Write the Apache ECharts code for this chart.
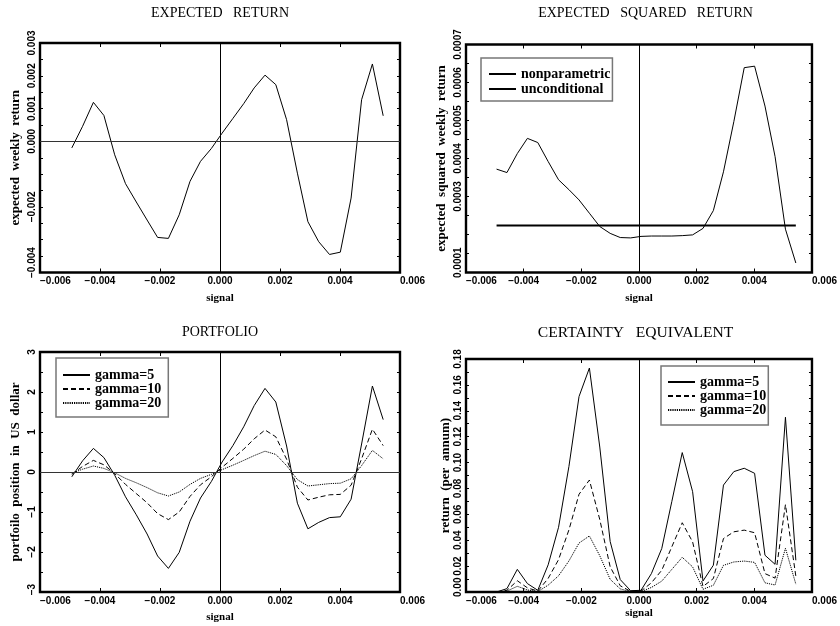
<!DOCTYPE html>
<html>
<head>
<meta charset="utf-8">
<script src="https://cdn.jsdelivr.net/npm/echarts@6/dist/echarts.min.js"></script>
<style>
  html, body { margin: 0; padding: 0; background: #fff; }
  #chart { width: 840px; height: 626px; }
</style>
</head>
<body>
<div id="chart"></div>
<script>
// Kernel grid of the signal (x values shared by all four panels)
const signal = [-0.00494, -0.00458, -0.00422, -0.00387, -0.00351, -0.00315, -0.00279, -0.00243, -0.00208, -0.00172,
                -0.00136, -0.00100, -0.00065, -0.00029, 0.00007, 0.00043, 0.00079, 0.00114, 0.00150, 0.00186,
                0.00222, 0.00258, 0.00293, 0.00329, 0.00365, 0.00401, 0.00437, 0.00472, 0.00508, 0.00544];

// Expected weekly return
const expectedReturn = [-0.00020, 0.00046, 0.00119, 0.00079, -0.00041, -0.00129, -0.00185, -0.00240, -0.00293, -0.00296,
                        -0.00224, -0.00122, -0.00061, -0.00022, 0.00025, 0.00070, 0.00115, 0.00163, 0.00202, 0.00173,
                        0.00066, -0.00097, -0.00245, -0.00306, -0.00345, -0.00338, -0.00173, 0.00127, 0.00236, 0.00078];

// Expected squared weekly return: nonparametric estimate and the unconditional level
const expectedSquared = [0.000372, 0.000363, 0.000413, 0.000453, 0.000442, 0.000392, 0.000344, 0.000318, 0.000291, 0.000256,
                         0.000221, 0.000203, 0.000192, 0.000191, 0.000195, 0.000196, 0.000196, 0.000196, 0.000197, 0.000199,
                         0.000216, 0.000263, 0.000365, 0.000497, 0.000639, 0.000643, 0.000538, 0.000405, 0.000214, 0.000125];
const unconditionalSquared = 0.000224;

// Portfolio position in US dollar
const position5  = [-0.12, 0.28, 0.59, 0.36, -0.08, -0.62, -1.07, -1.55, -2.10, -2.41,
                    -2.01, -1.23, -0.65, -0.24, 0.25, 0.66, 1.13, 1.66, 2.09, 1.75,
                    0.65, -0.78, -1.42, -1.26, -1.14, -1.12, -0.68, 0.70, 2.15, 1.31];
const position10 = [-0.06, 0.14, 0.29, 0.18, -0.04, -0.31, -0.54, -0.77, -1.04, -1.19,
                    -1.00, -0.61, -0.32, -0.12, 0.12, 0.34, 0.57, 0.83, 1.05, 0.88,
                    0.32, -0.38, -0.70, -0.63, -0.57, -0.56, -0.33, 0.33, 1.07, 0.66];
const position20 = [-0.03, 0.07, 0.15, 0.09, -0.02, -0.16, -0.27, -0.39, -0.52, -0.60,
                    -0.50, -0.31, -0.16, -0.06, 0.06, 0.17, 0.29, 0.41, 0.52, 0.44,
                    0.16, -0.19, -0.35, -0.32, -0.29, -0.28, -0.17, 0.16, 0.54, 0.33];

// Certainty equivalent return (per annum)
const certainty5  = [0.0000, 0.0026, 0.0175, 0.0065, 0.0013, 0.0210, 0.0500, 0.0970, 0.1510, 0.1730,
                     0.1120, 0.0390, 0.0096, 0.0010, 0.0013, 0.0142, 0.0336, 0.0700, 0.1077, 0.0775,
                     0.0085, 0.0207, 0.0826, 0.0930, 0.0956, 0.0917, 0.0284, 0.0214, 0.1350, 0.0245];
const certainty10 = [0.0000, 0.0013, 0.0087, 0.0032, 0.0007, 0.0105, 0.0250, 0.0480, 0.0755, 0.0865,
                     0.0560, 0.0195, 0.0048, 0.0005, 0.0007, 0.0071, 0.0168, 0.0350, 0.0535, 0.0387,
                     0.0043, 0.0104, 0.0413, 0.0465, 0.0478, 0.0458, 0.0142, 0.0107, 0.0675, 0.0123];
const certainty20 = [0.0000, 0.0007, 0.0044, 0.0016, 0.0003, 0.0053, 0.0125, 0.0240, 0.0378, 0.0433,
                     0.0280, 0.0098, 0.0024, 0.0003, 0.0003, 0.0035, 0.0084, 0.0175, 0.0268, 0.0194,
                     0.0021, 0.0052, 0.0206, 0.0232, 0.0239, 0.0229, 0.0071, 0.0054, 0.0338, 0.0061];

const panelTitles = ['EXPECTED   RETURN', 'EXPECTED   SQUARED   RETURN', 'PORTFOLIO', 'CERTAINTY   EQUIVALENT'];
const yNames = ['expected  weekly  return', 'expected  squared  weekly  return', 'portfoilo  position  in  US  dollar', 'return  (per  annum)'];
// tick values left unlabelled on the expected-return axis
const skippedReturnTicks = [-0.003, -0.001];

const MINUS = '\u2212';
const numText = (v, d) => (v < -1e-12 ? MINUS : '') + Math.abs(v).toFixed(d);
const pair = ys => signal.map((s, i) => [s, ys[i]]);

const tickFamily = '"Liberation Sans Narrow", "Liberation Sans", sans-serif';
const tickFont = { fontFamily: tickFamily, fontWeight: 'bold', fontSize: 10, color: '#000' };
const nameFontX = { fontFamily: 'Liberation Serif, serif', fontWeight: 'bold', fontSize: 11, color: '#000' };
const nameFontY = { fontFamily: 'Liberation Serif, serif', fontWeight: 'bold', fontSize: 13, color: '#000' };

// text width helper, used to slide the lowest y label up the axis
const measureCtx = document.createElement('canvas').getContext('2d');
measureCtx.font = 'bold 10px ' + tickFamily;
const textWidth = t => measureCtx.measureText(t).width;

const grids = [
  { left: 40,  top: 43,  width: 360, height: 229.5 },
  { left: 466, top: 44.5, width: 359, height: 228 },
  { left: 40,  top: 352, width: 360, height: 240 },
  { left: 466, top: 359, width: 359, height: 233 }
].map(g => Object.assign(g, { show: true, borderColor: '#000', borderWidth: 2.4, backgroundColor: 'transparent' }));

const yCfg = [
  { min: -0.004, max: 0.003, interval: 0.001, dec: 3, nameGap: 18, drop: 5.5 },
  { min: 0.0001, max: 0.0007, interval: 0.0001, dec: 4, nameGap: 18, drop: 5.5 },
  { min: -3, max: 3, interval: 1, dec: 0, nameGap: 18, drop: 3.3 },
  { min: 0, max: 0.18, interval: 0.02, dec: 2, nameGap: 11, drop: 5 }
];
const xNameGaps = [20, 20, 20, 16];

const xAxis = [], yAxis = [];
for (let g = 0; g < 4; g++) {
  const xBase = { gridIndex: g, type: 'value', min: -0.006, max: 0.006, interval: 0.002,
                  axisLine: { show: false, onZero: false }, splitLine: { show: false },
                  axisTick: { inside: true, length: 4, lineStyle: { color: '#000', width: 1 } } };
  xAxis.push(Object.assign({}, xBase, {
    position: 'bottom', name: 'signal', nameLocation: 'middle', nameGap: xNameGaps[g], nameTextStyle: nameFontX,
    axisLabel: Object.assign({ margin: 4, formatter: v => numText(v, 3), showMinLabel: true, showMaxLabel: true,
                               alignMinLabel: 'left', alignMaxLabel: 'left' }, tickFont)
  }));
  xAxis.push(Object.assign({}, xBase, { position: 'top', axisLabel: { show: false } }));

  const c = yCfg[g];
  const minText = numText(c.min, c.dec);
  const minPad = Math.max(0, textWidth(minText) - 2 * c.drop);
  const yBase = { gridIndex: g, type: 'value', min: c.min, max: c.max, interval: c.interval,
                  axisLine: { show: false, onZero: false }, splitLine: { show: false }, minorSplitLine: { show: false },
                  axisTick: { inside: true, length: 3, lineStyle: { color: '#000', width: 1 } },
                  minorTick: { show: true, splitNumber: 2, length: 3, lineStyle: { color: '#000', width: 1 } } };
  yAxis.push(Object.assign({}, yBase, {
    position: 'left', name: yNames[g], nameLocation: 'middle', nameGap: c.nameGap, nameTextStyle: nameFontY,
    axisLabel: Object.assign({
      rotate: 90, margin: 3, showMinLabel: true, showMaxLabel: true, hideOverlap: false,
      formatter: v => {
        if (g === 0 && skippedReturnTicks.some(s => Math.abs(s - v) < 1e-9)) return '';
        const t = numText(v, c.dec);
        return Math.abs(v - c.min) < 1e-12 ? '{lo|' + t + '}' : t;
      },
      rich: { lo: Object.assign({ padding: [0, 0, 0, minPad] }, tickFont) }
    }, tickFont)
  }));
  yAxis.push(Object.assign({}, yBase, { position: 'right', axisLabel: { show: false } }));
}

const zeroLines = (withHorizontal) => ({
  silent: true, symbol: ['none', 'none'], label: { show: false }, animation: false,
  lineStyle: { color: '#000', width: 1, type: 'solid' },
  data: withHorizontal ? [{ xAxis: 0 }, { yAxis: 0, lineStyle: { color: '#333' } }] : [{ xAxis: 0 }]
});

const lineSeries = (name, g, ys, style, extra) => Object.assign({
  name, type: 'line', xAxisIndex: 2 * g, yAxisIndex: 2 * g, data: pair(ys),
  symbol: 'none', showSymbol: false, smooth: false, animation: false,
  lineStyle: Object.assign({ color: '#000', width: 1 }, style),
  itemStyle: { color: '#000' }
}, extra || {});

const solid = { type: 'solid' };
const dashed = { type: [5, 3] };
const dotted = { type: [1.2, 1], width: 1 };

const series = [
  lineSeries('expected', 0, expectedReturn, solid, { markLine: zeroLines(true) }),
  lineSeries('nonparametric', 1, expectedSquared, solid, { markLine: zeroLines(false) }),
  lineSeries('unconditional', 1, signal.map(() => unconditionalSquared), { width: 2 }),
  lineSeries('gamma=5', 2, position5, solid, { markLine: zeroLines(true) }),
  lineSeries('gamma=10', 2, position10, dashed),
  lineSeries('gamma=20', 2, position20, dotted),
  lineSeries('gamma=5', 3, certainty5, solid, { markLine: zeroLines(false) }),
  lineSeries('gamma=10', 3, certainty10, dashed),
  lineSeries('gamma=20', 3, certainty20, dotted)
];

const legendBase = {
  orient: 'vertical', itemWidth: 27, itemHeight: 12, itemGap: 0,
  borderColor: '#777', borderWidth: 1.5, backgroundColor: '#fff',
  selectedMode: false,
  itemStyle: { color: 'rgba(0,0,0,0)', borderColor: 'rgba(0,0,0,0)', borderWidth: 0, opacity: 0 },
  textStyle: { fontFamily: 'Liberation Serif, serif', fontWeight: 'bold', fontSize: 14, color: '#000' }
};
const legend = [
  Object.assign({}, legendBase, { data: ['nonparametric', 'unconditional'], left: 481, top: 58, padding: [9, 2, 5, 7], itemGap: 1 }),
  Object.assign({}, legendBase, { data: ['gamma=5', 'gamma=10', 'gamma=20'], left: 56, top: 358, padding: [10, 7, 7, 6] }),
  Object.assign({}, legendBase, { data: ['gamma=5', 'gamma=10', 'gamma=20'], left: 661, top: 366, padding: [9, 2, 8, 6] })
];

const titleSizes = [14, 14, 14, 15.6];
const titlePos = [[220, 13], [645.5, 13], [220, 332], [635.5, 333]];
const graphic = panelTitles.map((t, i) => ({
  type: 'text', x: titlePos[i][0], y: titlePos[i][1], silent: true,
  style: { text: t, font: titleSizes[i] + 'px "Liberation Serif", serif', fill: '#000', align: 'center', verticalAlign: 'middle' }
}));

const chart = echarts.init(document.getElementById('chart'), null, { renderer: 'canvas' });
chart.setOption({
  backgroundColor: '#fff',
  animation: false,
  grid: grids,
  xAxis, yAxis, series, legend, graphic
});
</script>
</body>
</html>
